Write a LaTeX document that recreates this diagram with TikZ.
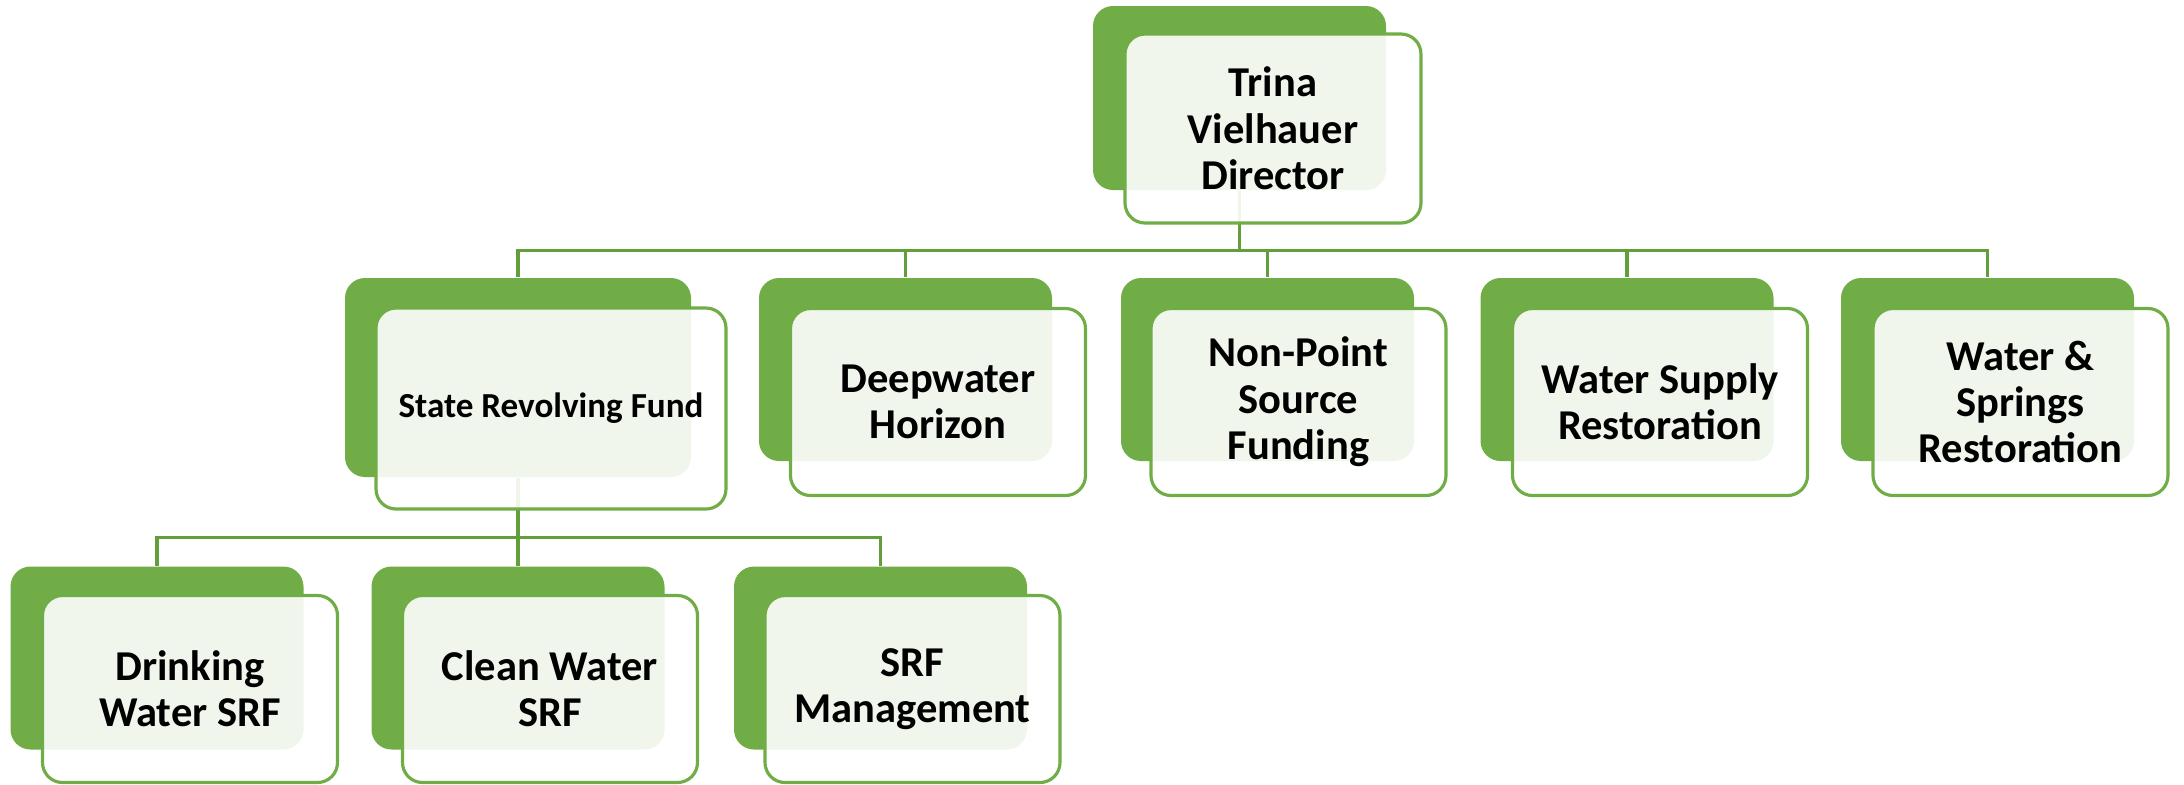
\documentclass[tikz,border=0pt]{standalone}
\usepackage{fontspec}
\setmainfont{Carlito}
\definecolor{leafgreen}{RGB}{112,173,71}
\definecolor{stemgreen}{RGB}{98,158,60}

\begin{document}
\begin{tikzpicture}
	\tikzstyle{back} = [draw=none, fill=leafgreen, rounded corners=0.2cm, minimum width=2.93cm, minimum height=1.83cm, inner sep=0pt]
	\tikzstyle{card} = [draw=leafgreen, line width=0.9pt, fill=white, fill opacity=0.9, text opacity=1, rounded corners=0.2cm, minimum width=2.95cm, minimum height=1.87cm, inner sep=0pt, align=center, font=\fontsize{12.1}{13.2}\selectfont\bfseries]
	\tikzstyle{link} = [draw=stemgreen, line width=0.9pt]
	\useasboundingbox (0,0) rectangle (21.84,-7.84);
	% back plates
	\node[back, minimum height=1.84cm] (dir) at (12.395,-0.98) {};
	\node[back, minimum width=3.46cm, minimum height=1.99cm] (srf) at (5.18,-3.775) {};
	\node[back] (dwh) at (9.055,-3.695) {};
	\node[back] (nps) at (12.675,-3.695) {};
	\node[back] (wsr) at (16.27,-3.695) {};
	\node[back] (wsp) at (19.875,-3.695) {};
	\node[back] (dws) at (1.57,-6.58) {};
	\node[back] (cws) at (5.18,-6.58) {};
	\node[back] (mgt) at (8.805,-6.58) {};
	% connectors
	\draw[link] (dir.south) -- ++(0,-0.6) -| (srf.north);
	\draw[link] (dir.south) -- ++(0,-0.6) -| (dwh.north);
	\draw[link] (dir.south) -- ++(0,-0.6) -| (nps.north);
	\draw[link] (dir.south) -- ++(0,-0.6) -| (wsr.north);
	\draw[link] (dir.south) -- ++(0,-0.6) -| (wsp.north);
	\draw[link] (srf.south) -- ++(0,-0.6) -| (dws.north);
	\draw[link] (srf.south) -- ++(0,-0.6) -| (cws.north);
	\draw[link] (srf.south) -- ++(0,-0.6) -| (mgt.north);
	% front cards
	\node[card, minimum width=2.96cm, minimum height=1.89cm] (dirF) at (12.73,-1.285) {Trina\\Vielhauer\\Director};
	\node[card, minimum width=3.50cm, minimum height=2.01cm, font=\fontsize{10}{12}\selectfont\bfseries] (srfF) at (5.51,-4.085) {State Revolving Fund};
	\node[card] (dwhF) at (9.38,-4.02) {Deepwater\\Horizon};
	\node[card] (npsF) at (12.985,-4.02) {Non-Point\\Source\\Funding};
	\node[card] (wsrF) at (16.60,-4.02) {Water Supply\\Restoration};
	\node[card] (wspF) at (20.205,-4.02) {Water \&\\Springs\\Restoration};
	\node[card] (dwsF) at (1.90,-6.89) {Drinking\\Water SRF};
	\node[card] (cwsF) at (5.50,-6.89) {Clean Water\\SRF};
	\node[card] (mgtF) at (9.125,-6.89) {SRF\\Management};
\end{tikzpicture}
\end{document}
